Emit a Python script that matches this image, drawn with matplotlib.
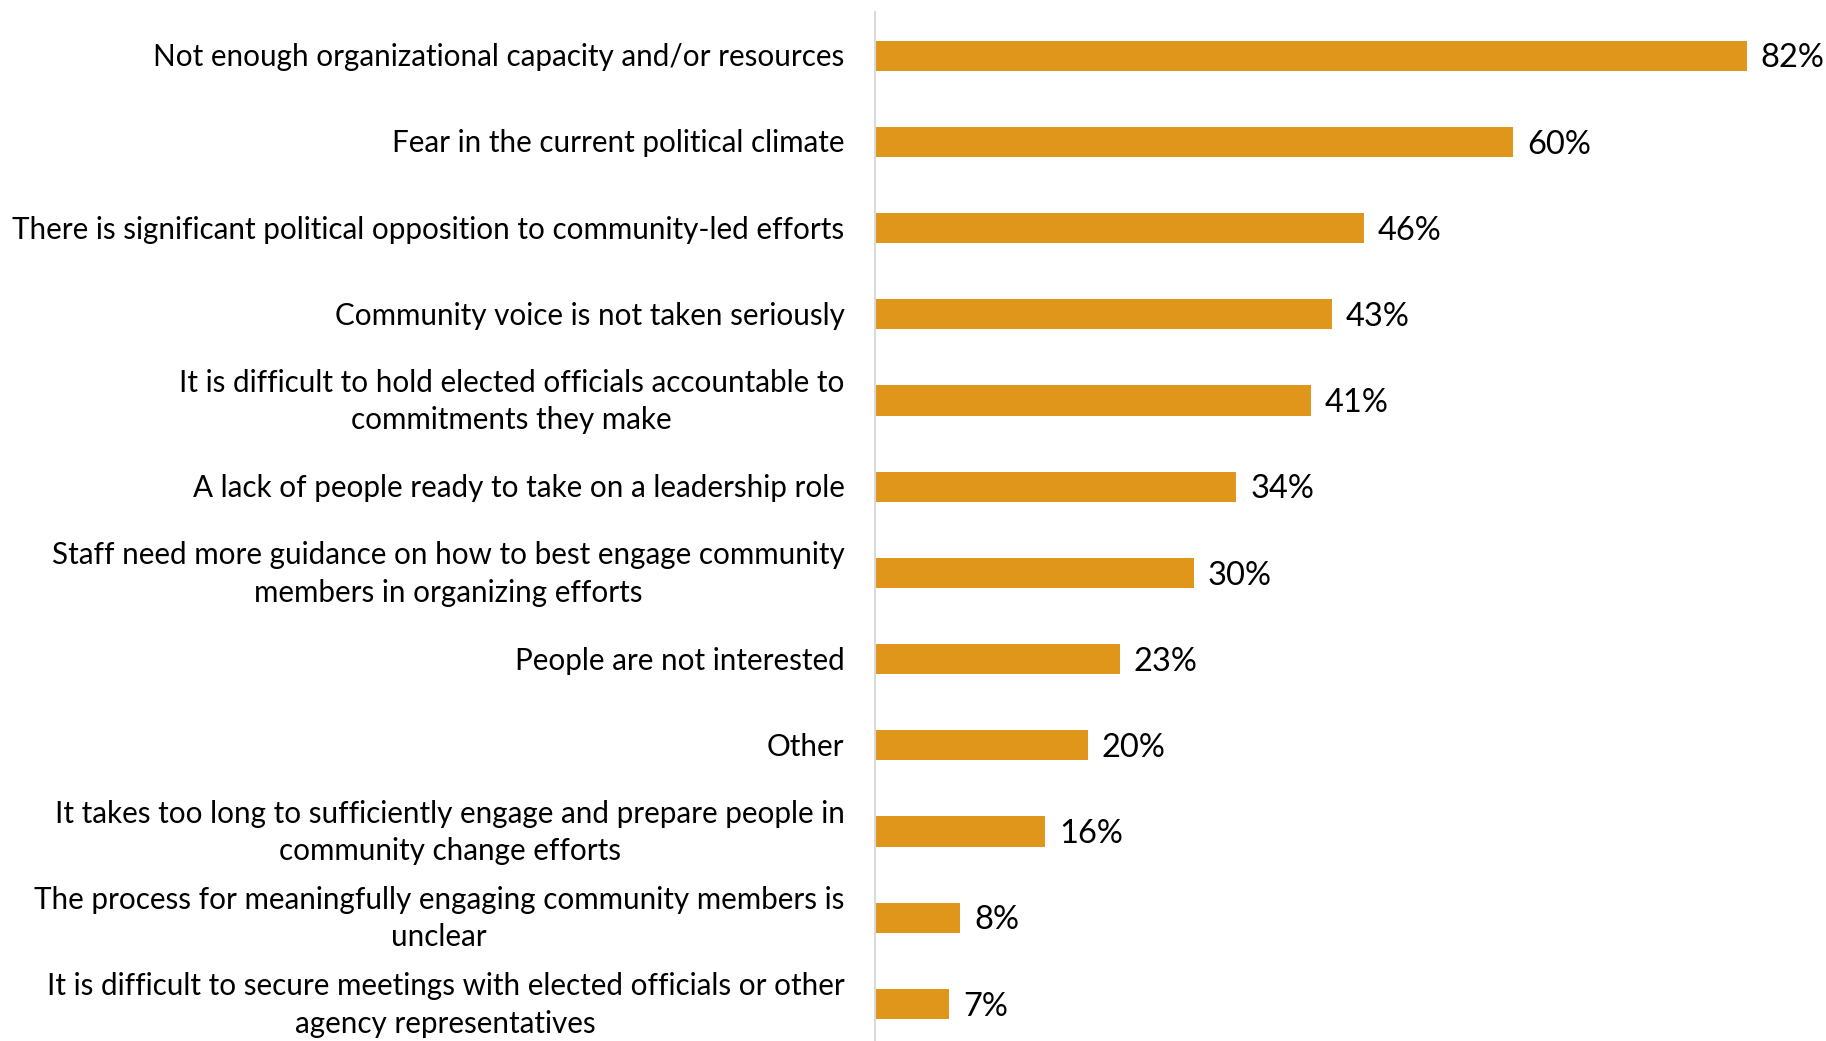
import matplotlib.pyplot as plt
from matplotlib.transforms import ScaledTranslation

categories = [
    "Not enough organizational capacity and/or resources",
    "Fear in the current political climate",
    "There is significant political opposition to community-led efforts",
    "Community voice is not taken seriously",
    "It is difficult to hold elected officials accountable to\ncommitments they make",
    "A lack of people ready to take on a leadership role",
    "Staff need more guidance on how to best engage community\nmembers in organizing efforts",
    "People are not interested",
    "Other",
    "It takes too long to sufficiently engage and prepare people in\ncommunity change efforts",
    "The process for meaningfully engaging community members is\nunclear",
    "It is difficult to secure meetings with elected officials or other\nagency representatives",
]
percents = [82, 60, 46, 43, 41, 34, 30, 23, 20, 16, 8, 7]

BAR_COLOR = "#E0961A"


def main():
    plt.rcParams["font.family"] = ["Lato", "DejaVu Sans"]

    fig = plt.figure(figsize=(18.26, 10.41), dpi=100)
    ax = fig.add_axes([0.4792, -0.0058, 0.4949, 0.9938])

    y = list(range(len(categories)))
    ax.barh(y, percents, height=0.35, color=BAR_COLOR)

    for yi, v in zip(y, percents):
        ax.annotate(f"{v}%", (v, yi), xytext=(10, -2), textcoords="offset points",
                    va="center", ha="left", fontsize=23.5, color="black")

    ax.set_ylim(len(categories) - 0.5, -0.5)
    ax.set_xlim(0, 85)
    ax.set_yticks(y)
    ax.set_yticklabels(categories, fontsize=21.3, multialignment="center",
                       linespacing=1.4)
    ax.tick_params(axis="y", length=0, pad=22)
    ax.set_xticks([])

    # nudge two-line labels up so they sit centred on their bars
    for lbl in ax.get_yticklabels():
        dy = 6 if "\n" in lbl.get_text() else 1
        lbl.set_transform(lbl.get_transform()
                          + ScaledTranslation(0, dy / 100, fig.dpi_scale_trans))

    for side in ["top", "right", "bottom"]:
        ax.spines[side].set_visible(False)
    ax.spines["left"].set_color("#D9D9D9")
    ax.spines["left"].set_linewidth(1.5)

    fig.savefig("out.png", dpi=100)


if __name__ == "__main__":
    main()
